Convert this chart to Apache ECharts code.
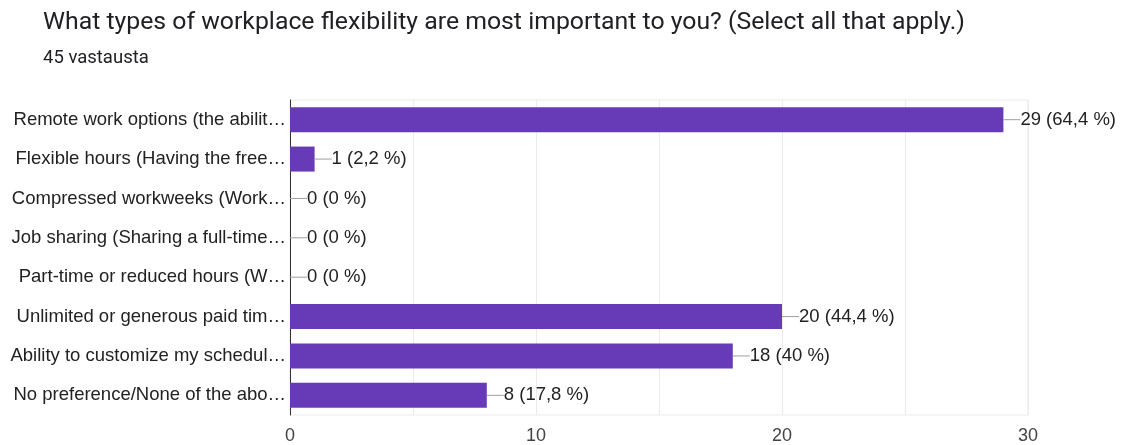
<!DOCTYPE html>
<html>
<head>
<meta charset="utf-8">
<script src="https://cdn.jsdelivr.net/npm/echarts@6/dist/echarts.min.js"></script>
<style>
  html, body { margin: 0; padding: 0; background: #fff; }
  #chart { width: 1127px; height: 445px; }
</style>
</head>
<body>
<div id="chart"></div>
<script>
// Survey answers (labels truncated as displayed)
const categories = [
  'Remote work options (the abilit\u2026',
  'Flexible hours (Having the free\u2026',
  'Compressed workweeks (Work\u2026',
  'Job sharing (Sharing a full-time\u2026',
  'Part-time or reduced hours (W\u2026',
  'Unlimited or generous paid tim\u2026',
  'Ability to customize my schedul\u2026',
  'No preference/None of the abo\u2026'
];
const counts = [29, 1, 0, 0, 0, 20, 18, 8];
const percents = ['64,4', '2,2', '0', '0', '0', '44,4', '40', '17,8'];
const titleText = 'What types of workplace flexibility are most important to you? (Select all that apply.)';
const subtitleText = '45 vastausta';

const chart = echarts.init(document.getElementById('chart'));
const titleFont = 'Roboto, Arial, sans-serif';
const chartFont = '"Liberation Sans", Arial, sans-serif';

chart.setOption({
  animation: false,
  title: {
    text: titleText,
    subtext: subtitleText,
    left: 43,
    top: 10,
    padding: 0,
    itemGap: 14,
    textStyle: { fontFamily: titleFont, fontSize: 24.8, fontWeight: 'normal', color: '#202124' },
    subtextStyle: { fontFamily: titleFont, fontSize: 18.5, color: '#202124' }
  },
  grid: {
    left: 290, right: 99, top: 100, bottom: 28, containLabel: false,
    show: true, borderColor: '#ebebeb', borderWidth: 1, backgroundColor: 'transparent'
  },
  xAxis: {
    type: 'value',
    min: 0,
    max: 30,
    interval: 10,
    axisLine: { show: false },
    axisTick: { show: false },
    axisLabel: { fontFamily: chartFont, fontSize: 18, color: '#444', margin: 12 },
    splitLine: { show: true, lineStyle: { color: '#ebebeb', width: 1 } },
    minorTick: { show: false, splitNumber: 2 },
    minorSplitLine: { show: true, lineStyle: { color: '#ebebeb', width: 1 } }
  },
  yAxis: {
    type: 'category',
    data: categories,
    inverse: true,
    axisLine: { show: true, lineStyle: { color: '#333', width: 1 } },
    axisTick: { show: false },
    axisLabel: { fontFamily: chartFont, fontSize: 18.5, color: '#222', margin: 4 },
    splitLine: { show: false }
  },
  series: [{
    type: 'bar',
    data: counts,
    barWidth: 25,
    itemStyle: { color: '#673ab7' },
    label: {
      show: true,
      position: 'right',
      distance: 0,
      formatter: (p) => '{ln|}{v|' + counts[p.dataIndex] + ' (' + percents[p.dataIndex] + ' %)}',
      rich: {
        ln: { width: 17, height: 1, backgroundColor: '#9e9e9e', verticalAlign: 'middle' },
        v: { fontFamily: chartFont, fontSize: 18.5, color: '#222' }
      }
    }
  }]
});
</script>
</body>
</html>
